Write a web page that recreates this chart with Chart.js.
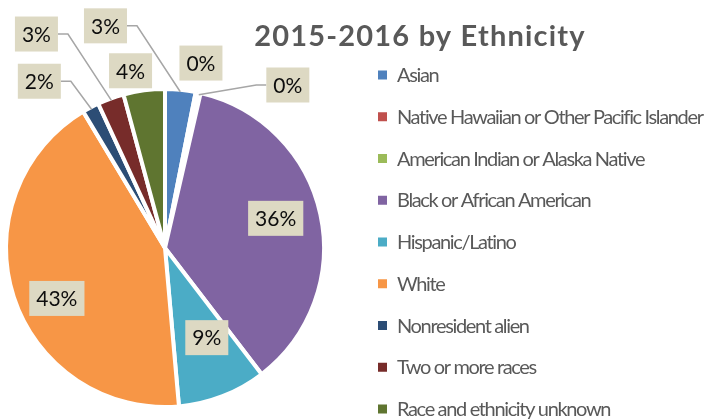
<!DOCTYPE html>
<html>
<head>
<meta charset="utf-8">
<script src="https://cdn.jsdelivr.net/npm/chart.js@4.4.1/dist/chart.umd.min.js"></script>
<style>
  body { margin: 0; background: #fff; }
  #wrap { width: 708px; height: 419px; }
</style>
</head>
<body>
<div id="wrap"><canvas id="pie" width="708" height="419"></canvas></div>
<script>
// 2015-2016 enrollment share by ethnicity (percent)
const titleText = '2015-2016 by Ethnicity'
const categories = [
  'Asian',
  'Native Hawaiian or Other Pacific Islander',
  'American Indian or Alaska Native',
  'Black or African American',
  'Hispanic/Latino',
  'White',
  'Nonresident alien',
  'Two or more races',
  'Race and ethnicity unknown'
]
const shares = [3.1, 0.2, 0.3, 36.0, 9.0, 42.8, 1.7, 2.7, 4.2]
const colors = ['#4f81bd', '#c0504d', '#9bbb59', '#8064a2', '#4bacc6', '#f79646', '#2c4d75', '#772c2a', '#5f7530']

// where each data label sits: [degrees clockwise from top, distance as a fraction of radius]
const labelSpots = [[345, 1.465], [11, 1.2], [37, 1.3], [75, 0.73], [155, 0.63], [245, 0.76], [323, 1.33], [329, 1.59], [349, 1.15]]
const hasLeader = [true, false, true, false, false, false, true, true, false]

const total = shares.reduce((a, b) => a + b, 0)

const annotate = {
  id: 'annotate',
  afterDraw(chart) {
    const ctx = chart.ctx
    const arcs = chart.getDatasetMeta(0).data
    ctx.save()

    // title
    ctx.font = 'bold 29px Lato'
    ctx.fillStyle = '#595959'
    ctx.textAlign = 'center'
    ctx.textBaseline = 'alphabetic'
    ctx.letterSpacing = '1.2px'
    ctx.fillText(titleText, 420, 46)

    // legend
    ctx.font = '20px Lato'
    ctx.textAlign = 'left'
    ctx.letterSpacing = '-1.35px'
    categories.forEach((name, i) => {
      const y = 75 + i * 41.75
      ctx.fillStyle = colors[i]
      ctx.fillRect(378, y - 4.5, 9, 9)
      ctx.fillStyle = '#595959'
      ctx.fillText(name, 397, y + 7)
    })
    ctx.letterSpacing = '0px'

    // data labels
    ctx.font = '21px Lato'
    ctx.textAlign = 'center'
    ctx.textBaseline = 'middle'
    arcs.forEach((arc, i) => {
      const { x, y, startAngle, endAngle, outerRadius } = arc
      const r = outerRadius - 2
      const [deg, f] = labelSpots[i]
      const a = (deg - 90) * Math.PI / 180
      const cx = x + Math.cos(a) * r * f
      const cy = y + Math.sin(a) * r * f
      const text = Math.round(shares[i] / total * 100) + '%'
      const w = ctx.measureText(text).width + 14
      const h = 35

      if (hasLeader[i]) {
        const mid = (startAngle + endAngle) / 2
        const ax = x + Math.cos(mid) * r
        const ay = y + Math.sin(mid) * r
        const sx = ax > cx ? cx + w / 2 : cx - w / 2
        const kx = ax > cx ? sx + 10 : sx - 10
        ctx.strokeStyle = '#a6a6a6'
        ctx.lineWidth = 1.5
        ctx.beginPath()
        ctx.moveTo(sx, cy)
        ctx.lineTo(kx, cy)
        ctx.lineTo(ax, ay)
        ctx.stroke()
      }

      ctx.fillStyle = '#ddd9c3'
      ctx.fillRect(cx - w / 2, cy - h / 2, w, h)
      ctx.fillStyle = '#0d0d0d'
      ctx.fillText(text, cx, cy + 1)
    })
    ctx.restore()
  }
}

new Chart(document.getElementById('pie'), {
  type: 'pie',
  data: {
    labels: categories,
    datasets: [{
      data: shares,
      backgroundColor: colors,
      borderColor: '#ffffff',
      borderWidth: 4
    }]
  },
  options: {
    responsive: false,
    animation: false,
    devicePixelRatio: 1,
    layout: {
      padding: { left: 4, right: 382, top: 87, bottom: 10 }
    },
    plugins: {
      legend: { display: false },
      title: { display: false },
      tooltip: { enabled: false }
    }
  },
  plugins: [annotate]
})
</script>
</body>
</html>
